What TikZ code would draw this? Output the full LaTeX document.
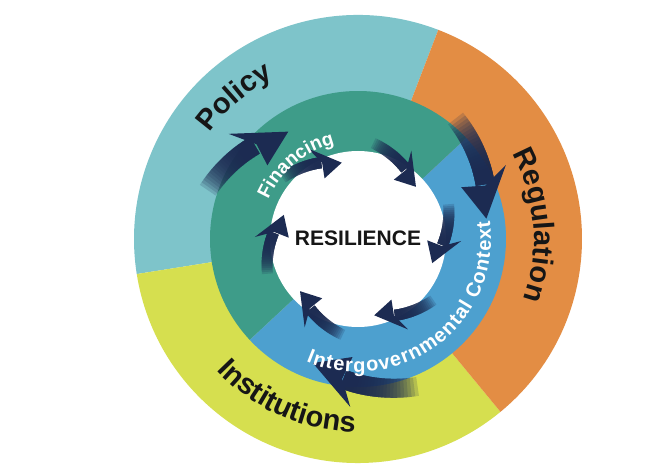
\documentclass[tikz,border=0pt]{standalone}
\usepackage{fontspec}
\setmainfont{Liberation Sans}
\usetikzlibrary{decorations.text}
\definecolor{policyc}{HTML}{7EC4CA}
\definecolor{regc}{HTML}{E38D44}
\definecolor{instc}{HTML}{D6DF4F}
\definecolor{finc}{HTML}{3E9C89}
\definecolor{igc}{HTML}{4DA0CF}
\definecolor{navy}{HTML}{1C2B52}
\definecolor{textc}{HTML}{161616}
\newcommand{\ringfont}{\fontsize{29}{34}\selectfont\bfseries}
\newcommand{\finfont}{\fontsize{19}{22}\selectfont\bfseries}
\newcommand{\igfont}{\fontsize{20}{24}\selectfont\bfseries}
% tail angle, tip angle, tail radius, tip radius, shaft width, head length, head width
\newcommand{\curvarrow}[7]{%
  \pgfmathsetmacro{\dA}{(#2)-(#1)}%
  \pgfmathsetmacro{\hA}{(#6)/(#4)*57.2958}%
  \pgfmathsetmacro{\tb}{1-\hA/abs(\dA)}%
  \pgfmathsetmacro{\te}{\tb+0.08}%
  \foreach \i in {0,...,19}{%
    \pgfmathsetmacro{\ts}{\i/20*\tb}%
    \draw[line width=#5pt, navy, opacity=0.18, line cap=butt]
      plot[domain=\ts:\te, samples=30, variable=\q] ({(#1)+\q*(\dA)}:{(#3)+\q*((#4)-(#3))});
  }%
  \pgfmathsetmacro{\ab}{(#1)+\tb*(\dA)}%
  \pgfmathsetmacro{\rb}{(#3)+\tb*((#4)-(#3))}%
  \pgfmathsetmacro{\an}{(#1)+(\tb+0.22*(1-\tb))*(\dA)}%
  \pgfmathsetmacro{\rn}{(#3)+(\tb+0.22*(1-\tb))*((#4)-(#3))}%
  \fill[navy] (#2:#4) -- (\ab:{\rb+(#7)/2}) -- (\an:\rn) -- (\ab:{\rb-(#7)/2}) -- cycle;
}
\tikzset{
  ringtext/.style={decorate, decoration={text along path, text align=center, text color=textc}},
}
\begin{document}
\begin{tikzpicture}[x=1pt,y=1pt]
\useasboundingbox (-358,-231) rectangle (308,239);
\fill[white] (-358,-231) rectangle (308,239);
% outer ring sectors
\fill[policyc] (0,0) -- (69:224) arc[start angle=69, end angle=189, radius=224pt] -- cycle;
\fill[instc] (0,0) -- (189:224) arc[start angle=189, end angle=309.5, radius=224pt] -- cycle;
\fill[regc] (0,0) -- (309.5:224) arc[start angle=309.5, end angle=429, radius=224pt] -- cycle;
% inner ring
\fill[finc] (0,0) -- (43:148) arc[start angle=43, end angle=223, radius=148pt] -- cycle;
\fill[igc] (0,0) -- (223:148) arc[start angle=223, end angle=403, radius=148pt] -- cycle;
% centre
\fill[white] (0,0) circle[radius=88pt];
\node[text=textc, font=\fontsize{21}{24}\selectfont\bfseries] (res) at (0,1) {RESILIENCE};
% outer arrows
\curvarrow{162}{123}{158}{128}{19}{40}{50}
\curvarrow{51}{9}{155}{130}{19}{40}{50}
\curvarrow{-68}{-110}{159}{132}{19}{40}{50}
% inner arrows
\foreach \k in {0,...,5}{
  \pgfmathsetmacro{\aa}{141-60*\k}
  \pgfmathsetmacro{\bb}{102-60*\k}
  \curvarrow{\aa}{\bb}{97}{78}{11}{23}{34}
}
% ring texts
\path[ringtext, decoration={text={|\ringfont|Policy}}]
  (176:182) arc[start angle=176, end angle=86, radius=182pt];
\path[ringtext, decoration={text={|\ringfont|Regulation}}]
  (50:176) arc[start angle=50, end angle=-41, radius=176pt];
\path[ringtext, decoration={text={|\ringfont|Institutions}}]
  (200:193) arc[start angle=200, end angle=292, radius=193pt];
\path[ringtext, decoration={text={|\finfont|Financing}, text color=white}]
  (180:98) arc[start angle=180, end angle=80, radius=98pt];
\path[ringtext, decoration={text={|\igfont|Intergovernmental Context}, text color=white, text align=fit to path}]
  (247:133) arc[start angle=247, end angle=368, radius=133pt];
\end{tikzpicture}
\end{document}
